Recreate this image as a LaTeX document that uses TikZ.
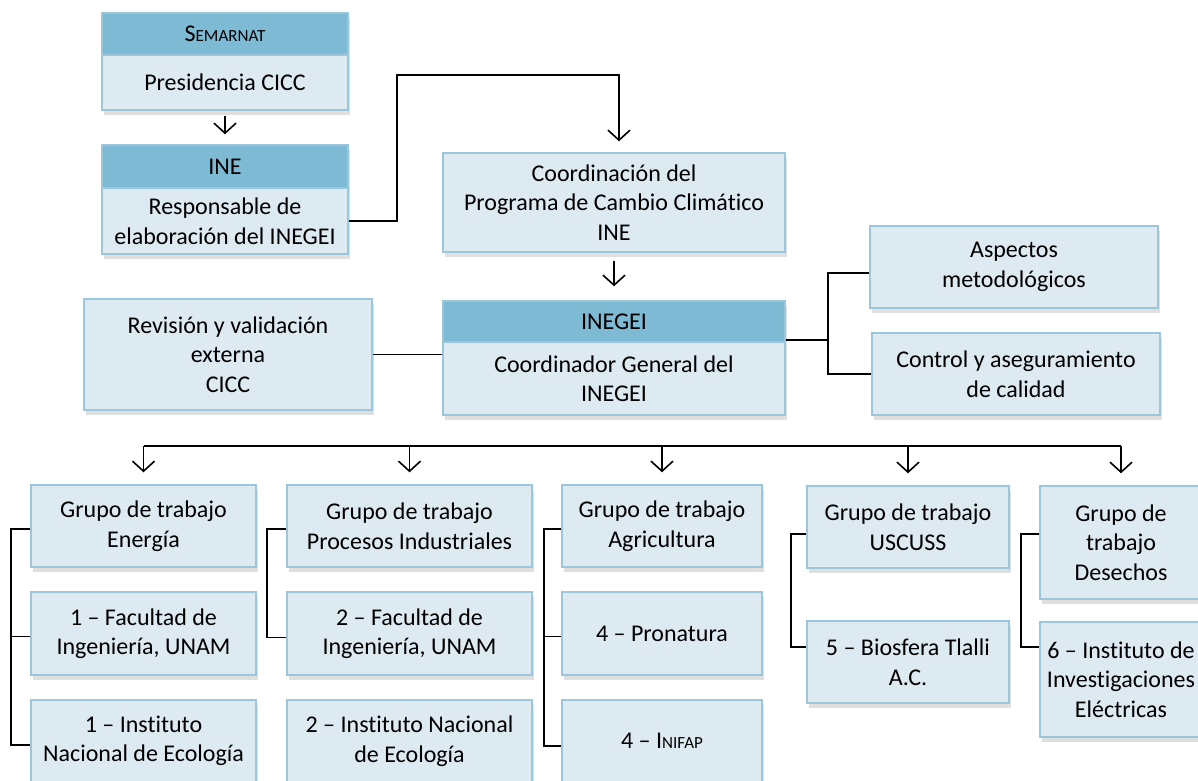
\documentclass[tikz,border=0pt]{standalone}
\usepackage{fontspec}
\setmainfont{Carlito}[Ligatures=NoCommon]
\usetikzlibrary{arrows.meta,shadows}
\definecolor{hdrblue}{HTML}{7EBAD4}
\definecolor{boxfill}{HTML}{DEEAF2}
\definecolor{boxline}{HTML}{9CC6DB}
\begin{document}
\begin{tikzpicture}[x=1pt,y=-1pt]
		\tikzset{orgbox/.style = {draw=boxline,line width=1.5pt,fill=boxfill,inner sep=0pt,align=center,
				font=\fontsize{24}{29.5}\selectfont,
				drop shadow={opacity=.25,shadow xshift=2pt,shadow yshift=-5pt}}}
		\tikzset{orghead/.style = {orgbox,fill=hdrblue}}
		\tikzset{link/.style = {draw,line width=1.6pt}}
		\tikzset{flow/.style = {link,-{Straight Barb[length=10pt,width=22pt]}}}
		\path[use as bounding box,fill=white] (0,0) rectangle (1198,780);
		\clip (0,0) rectangle (1198,780);
		\node[orghead,minimum width=246pt,minimum height=42pt] (semarnat) at (225,34) {S{\fontsize{17}{20}\selectfont EMARNAT}};
		\node[orgbox,minimum width=246pt,minimum height=55pt] (presid) at (225,82.5) {Presidencia CICC};
		\node[orghead,minimum width=246pt,minimum height=43pt] (ine) at (225,166.5) {INE};
		\node[orgbox,minimum width=246pt,minimum height=66pt] (resp) at (225,221) {Responsable de\\elaboración del INEGEI};
		\node[orgbox,minimum width=342pt,minimum height=99pt] (coord) at (614,202.5) {Coordinación del\\Programa de Cambio Climático\\INE};
		\node[orghead,minimum width=342pt,minimum height=41pt] (inegei) at (614,321.5) {INEGEI};
		\node[orgbox,minimum width=342pt,minimum height=73pt] (coordgen) at (614,378.5) {Coordinador General del\\INEGEI};
		\node[orgbox,minimum width=288pt,minimum height=111pt] (revision) at (228,354.5) {Revisión y validación\\externa\\CICC};
		\node[orgbox,minimum width=288pt,minimum height=82pt] (aspectos) at (1014,267) {Aspectos\\metodológicos};
		\node[orgbox,minimum width=288pt,minimum height=82pt] (control) at (1016,374) {Control y aseguramiento\\de calidad};
		\node[orgbox,minimum width=225pt,minimum height=82pt] (g1) at (143.5,526) {Grupo de trabajo\\Energía};
		\node[orgbox,minimum width=225pt,minimum height=83pt] (f1) at (143.5,633.5) {1 – Facultad de\\Ingeniería, UNAM};
		\node[orgbox,minimum width=225pt,minimum height=82pt] (i1) at (143.5,741) {1 – Instituto\\Nacional de Ecología};
		\node[orgbox,minimum width=245pt,minimum height=82pt] (g2) at (409.5,526) {Grupo de trabajo\\Procesos Industriales};
		\node[orgbox,minimum width=245pt,minimum height=83pt] (f2) at (409.5,633.5) {2 – Facultad de\\Ingeniería, UNAM};
		\node[orgbox,minimum width=245pt,minimum height=82pt] (i2) at (409.5,741) {2 – Instituto Nacional\\de Ecología};
		\node[orgbox,minimum width=200pt,minimum height=82pt] (g3) at (662,526) {Grupo de trabajo\\Agricultura};
		\node[orgbox,minimum width=200pt,minimum height=83pt] (p4) at (662,633.5) {4 – Pronatura};
		\node[orgbox,minimum width=200pt,minimum height=82pt] (n4) at (662,741) {4 – I{\fontsize{17}{20}\selectfont NIFAP}};
		\node[orgbox,minimum width=202pt,minimum height=82pt] (g4) at (908,527) {Grupo de trabajo\\USCUSS};
		\node[orgbox,minimum width=202pt,minimum height=82pt] (b5) at (908,662) {5 – Biosfera Tlalli\\A.C.};
		\node[orgbox,minimum width=162pt,minimum height=113pt] (g5) at (1121,542.5) {Grupo de\\trabajo\\Desechos};
		\node[orgbox,minimum width=162pt,minimum height=115pt] (e6) at (1121,679.5) {6 – Instituto de\\Investigaciones\\Eléctricas};
		\coordinate (rj) at (828,340);
		\coordinate (bus) at (0,446);
		\draw[flow,shorten <=5pt,shorten >=10pt] (presid) -- (ine);
		\draw[flow,shorten >=11pt] (resp.east) -- ++(48,0) |- ([xshift=5pt,yshift=77pt]coord.north) -- ([xshift=5pt]coord.north);
		\draw[flow,shorten <=8pt,shorten >=14pt] (coord) -- (inegei);
		\draw[link] (revision.east) -- (revision.east -| coordgen.west);
		\draw[link] (rj -| coordgen.east) -- (rj);
		\draw[link] ([yshift=-6pt]aspectos.west) -| (rj) |- (control.west);
		\draw[link] (g1.north |- bus) -- (g5.north |- bus);
		\foreach \g in {g1,g2,g3,g4,g5}
			\draw[flow,shorten >=12pt] (\g.north |- bus) -- (\g.north);
		\draw[link] ([yshift=-3pt]g1.west) -- ++(-19,0) |- ([yshift=-4pt]i1.west);
		\draw[link] ([yshift=-3pt]f1.west) -- ++(-19,0);
		\draw[link] ([yshift=-3pt]g2.west) -- ++(-19,0) |- ([yshift=-4pt]f2.west);
		\draw[link] ([yshift=-3pt]g3.west) -- ++(-17,0) |- ([yshift=-5pt]n4.west);
		\draw[link] ([yshift=-3pt]p4.west) -- ++(-17,0);
		\draw[link] ([yshift=-7pt]g4.west) -- ++(-15,0) |- ([yshift=15pt]b5.west);
		\draw[link] ([yshift=8.5pt]g5.west) -- ++(-18,0) |- ([yshift=32.5pt]e6.west);
	\end{tikzpicture}
\end{document}
